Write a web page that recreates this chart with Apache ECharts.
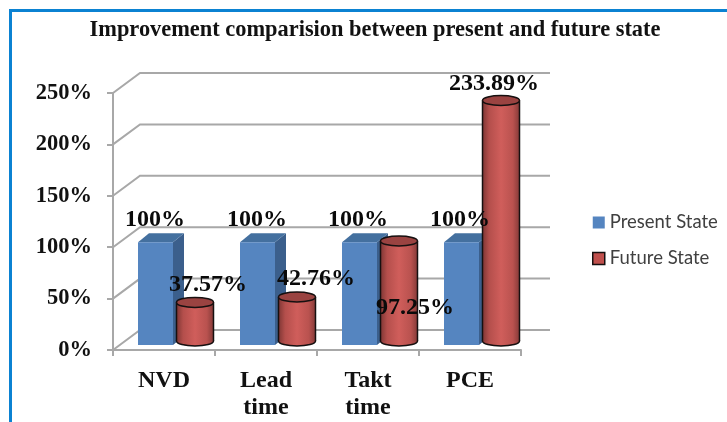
<!DOCTYPE html>
<html>
<head>
<meta charset="utf-8">
<script src="https://cdn.jsdelivr.net/npm/echarts@6/dist/echarts.min.js"></script>
<style>
  html, body { margin: 0; padding: 0; background: #fff; overflow: hidden; }
  #chart { width: 727px; height: 422px; }
  /* blue frame round the picture, only top and left are visible */
  #frame { position: absolute; left: 9px; top: 9px; width: 730px; height: 430px; border: 3px solid #0b82d2; box-sizing: border-box; pointer-events: none; }
</style>
</head>
<body>
<div id="chart"></div>
<div id="frame"></div>
<script>
var categories = ['NVD', 'Lead\ntime', 'Takt\ntime', 'PCE'];
var presentState = [100, 100, 100, 100];
var futureState = [37.57, 42.76, 97.25, 233.89];
var yTicks = [0, 50, 100, 150, 200, 250];

var LABEL_FONT = '"Liberation Serif", serif';
var GRID_COLOR = '#a8a8a8';
var DEPTH_X = 27, DEPTH_Y = -20;

var chart = echarts.init(document.getElementById('chart'));

// back wall + floor lines, one per y tick
function renderWall(params, api) {
  var cs = params.coordSys;
  var y = api.coord([0, api.value(1)])[1];
  var left = cs.x, right = cs.x + cs.width;
  var pts = [[left, y], [left + DEPTH_X, y + DEPTH_Y], [right + DEPTH_X + 2, y + DEPTH_Y]];
  return {
    type: 'polyline',
    shape: { points: pts },
    style: { fill: null, stroke: GRID_COLOR, lineWidth: 2 }
  };
}

function renderPresent(params, api) {
  var p = api.coord([api.value(0), api.value(1)]);
  var base = api.coord([api.value(0), 0]);
  var x0 = p[0] - 26, w = 35, sx = 11, sy = -9;
  var top = p[1] - 5, bottom = base[1] - 5;
  return {
    type: 'group',
    children: [
      { type: 'polygon', shape: { points: [[x0 + w, top], [x0 + w + sx, top + sy], [x0 + w + sx, bottom + sy], [x0 + w, bottom]] }, style: { fill: '#3b5f8c' } },
      { type: 'polygon', shape: { points: [[x0, top], [x0 + sx, top + sy], [x0 + w + sx, top + sy], [x0 + w, top]] }, style: { fill: '#44709f' } },
      { type: 'rect', shape: { x: x0, y: top, width: w, height: bottom - top }, style: { fill: '#5585c0' } }
    ]
  };
}

function renderFuture(params, api) {
  var p = api.coord([api.value(0), api.value(1)]);
  var base = api.coord([api.value(0), 0]);
  var cx = p[0] + 31, rx = 18.5, ry = 5;
  var top = p[1] - 9, bottom = base[1] - 9;
  var body = new echarts.graphic.LinearGradient(0, 0, 1, 0, [
    { offset: 0, color: '#7f3634' },
    { offset: 0.18, color: '#b44f4c' },
    { offset: 0.5, color: '#d05e5b' },
    { offset: 0.82, color: '#b9524f' },
    { offset: 1, color: '#853a38' }
  ]);
  var line = { stroke: '#161010', lineWidth: 1.5 };
  return {
    type: 'group',
    children: [
      { type: 'ellipse', shape: { cx: cx, cy: bottom, rx: rx, ry: ry }, style: { fill: body, stroke: line.stroke, lineWidth: line.lineWidth } },
      { type: 'rect', shape: { x: cx - rx, y: top, width: rx * 2, height: bottom - top }, style: { fill: body } },
      { type: 'line', shape: { x1: cx - rx, y1: top, x2: cx - rx, y2: bottom }, style: line },
      { type: 'line', shape: { x1: cx + rx, y1: top, x2: cx + rx, y2: bottom }, style: line },
      { type: 'ellipse', shape: { cx: cx, cy: top, rx: rx, ry: ry }, style: { fill: '#9a4341', stroke: line.stroke, lineWidth: line.lineWidth } }
    ]
  };
}

// data labels sit on top of every bar, hence their own series
function labelRenderer(nudge) {
  return function (params, api) {
    var p = api.coord([api.value(0), api.value(1)]);
    var n = nudge[params.dataIndex];
    return {
      type: 'text',
      style: {
        x: p[0] + n[0], y: p[1] + n[1],
        text: api.value(1) + '%',
        font: 'bold 24px ' + LABEL_FONT,
        fill: '#0a0a0a', align: 'center', verticalAlign: 'middle'
      }
    };
  };
}

function pairs(values) {
  return values.map(function (v, i) { return [i, v]; });
}

chart.setOption({
  animation: false,
  title: {
    text: 'Improvement comparision between present and future state',
    left: 370, top: 14, textAlign: 'center',
    textStyle: { fontFamily: LABEL_FONT, fontWeight: 'bold', fontSize: 22.4, color: '#111' }
  },
  legend: {
    orient: 'vertical', left: 587, top: 208,
    itemWidth: 12, itemHeight: 12, itemGap: 17,
    textStyle: { fontFamily: 'Lato', fontSize: 18.5, color: '#404040' },
    data: [
      { name: 'Present State', icon: 'rect' },
      { name: 'Future State', icon: 'rect', itemStyle: { borderColor: '#161010', borderWidth: 1.5 } }
    ]
  },
  grid: { left: 113, right: 206, top: 93, bottom: 72 },
  xAxis: {
    type: 'category',
    data: categories,
    axisLine: { lineStyle: { color: GRID_COLOR, width: 2 } },
    axisTick: { show: true, length: 6, alignWithLabel: false, lineStyle: { color: GRID_COLOR, width: 2 } },
    axisLabel: { fontFamily: LABEL_FONT, fontWeight: 'bold', fontSize: 24, color: '#111', lineHeight: 27, margin: 17 }
  },
  yAxis: {
    type: 'value', min: 0, max: 250, interval: 50,
    axisLine: { show: true, lineStyle: { color: GRID_COLOR, width: 2 } },
    axisTick: { show: true, length: 6, lineStyle: { color: GRID_COLOR, width: 2 } },
    splitLine: { show: false },
    axisLabel: { formatter: '{value}%', fontFamily: LABEL_FONT, fontWeight: 'bold', fontSize: 22.5, color: '#111', margin: 21 }
  },
  series: [
    { type: 'custom', z: 1, silent: true, renderItem: renderWall, data: yTicks.map(function (v) { return [0, v]; }) },
    { name: 'Present State', type: 'custom', z: 2, itemStyle: { color: '#5585c0' }, renderItem: renderPresent, data: pairs(presentState) },
    { name: 'Future State', type: 'custom', z: 3, itemStyle: { color: '#c0504d' }, renderItem: renderFuture, data: pairs(futureState) },
    { type: 'custom', z: 4, silent: true, data: pairs(presentState),
      renderItem: labelRenderer([[-9, -27], [-9, -27], [-10, -27], [-10, -27]]) },
    { type: 'custom', z: 4, silent: true, data: pairs(futureState),
      renderItem: labelRenderer([[44, -27], [50, -27], [47, 58], [24, -26]]) }
  ]
});
</script>
</body>
</html>
